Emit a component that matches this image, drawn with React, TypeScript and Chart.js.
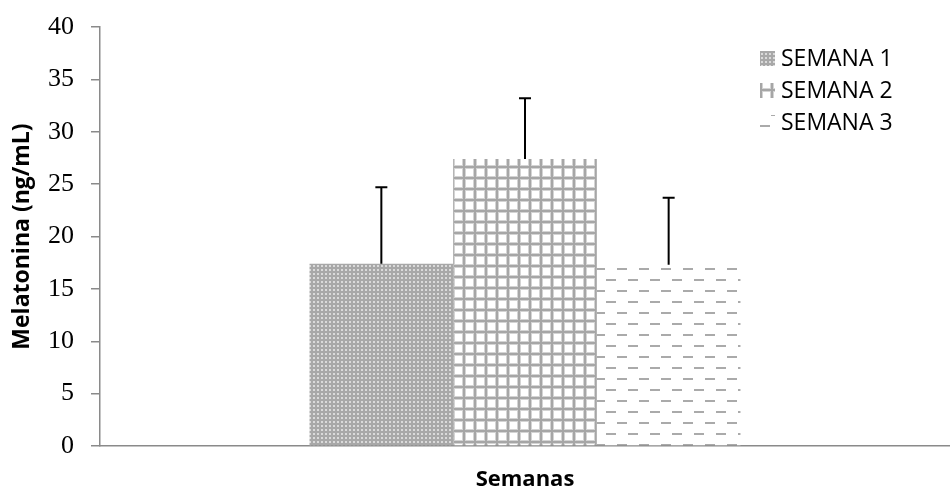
import { useEffect, useRef } from 'react';
import { Chart, registerables } from 'chart.js';

Chart.register(...registerables);

const categories = [''];
const seriesNames = ['SEMANA 1', 'SEMANA 2', 'SEMANA 3'];
const semana1 = [17.4];
const semana2 = [27.4];
const semana3 = [17.3];
const errorsUp = [7.3, 5.8, 6.4];
const yMin = 0;
const yMax = 40;
const yStep = 5;
const xTitle = 'Semanas';
const yTitle = 'Melatonina (ng/mL)';

function makePattern(kind: number): CanvasPattern | string {
  const c = document.createElement('canvas');
  const ctx = c.getContext('2d');
  if (!ctx) return '#b0b0b0';
  if (kind === 0) {
    c.width = 4; c.height = 4;
    ctx.fillStyle = '#a8a8a8';
    ctx.fillRect(0, 0, 4, 4);
    ctx.fillStyle = '#dadada';
    ctx.fillRect(1, 1, 2, 2);
  } else if (kind === 1) {
    c.width = 11; c.height = 11;
    ctx.fillStyle = '#ffffff';
    ctx.fillRect(0, 0, 11, 11);
    ctx.fillStyle = '#d4d4d4';
    ctx.fillRect(0, 0, 4, 11);
    ctx.fillRect(0, 0, 11, 4);
    ctx.fillStyle = '#a6a6a6';
    ctx.fillRect(1, 0, 2, 11);
    ctx.fillRect(0, 1, 11, 2);
  } else {
    c.width = 22; c.height = 22;
    ctx.fillStyle = '#ffffff';
    ctx.fillRect(0, 0, 22, 22);
    ctx.fillStyle = '#aaaaaa';
    ctx.fillRect(1, 4, 10, 2);
    ctx.fillRect(12, 15, 10, 2);
  }
  const p = ctx.createPattern(c, 'repeat');
  return p || '#b0b0b0';
}

const errorBarPlugin = {
  id: 'errorBars',
  afterDatasetsDraw(chart: any) {
    const ctx = chart.ctx;
    const yScale = chart.scales.y;
    ctx.save();
    ctx.strokeStyle = '#000000';
    ctx.lineWidth = 2;
    chart.data.datasets.forEach((ds: any, i: number) => {
      const meta = chart.getDatasetMeta(i);
      meta.data.forEach((bar: any, j: number) => {
        const v = ds.data[j];
        const top = yScale.getPixelForValue(v + errorsUp[i]);
        ctx.beginPath();
        ctx.moveTo(bar.x, bar.y);
        ctx.lineTo(bar.x, top);
        ctx.moveTo(bar.x - 6, top);
        ctx.lineTo(bar.x + 6, top);
        ctx.stroke();
      });
    });
    ctx.restore();
  },
};

const legendPlugin = {
  id: 'excelLegend',
  afterDraw(chart: any) {
    const ctx = chart.ctx;
    ctx.save();
    ctx.font = '23px "Open Sans"';
    ctx.textBaseline = 'middle';
    ctx.textAlign = 'left';
    chart.data.datasets.forEach((ds: any, i: number) => {
      const cy = 58 + i * 32;
      ctx.fillStyle = ds.backgroundColor;
      ctx.fillRect(760, cy - 7, 15, 15);
      ctx.fillStyle = '#000000';
      ctx.fillText(ds.label, 781, cy + 1);
    });
    ctx.restore();
  },
};

export default function App() {
  const ref = useRef<HTMLCanvasElement | null>(null);
  useEffect(() => {
    if (!ref.current) return;
    const seriesValues = [semana1, semana2, semana3];
    const chart = new Chart(ref.current, {
      type: 'bar',
      data: {
        labels: categories,
        datasets: seriesNames.map((name, i) => ({
          label: name,
          data: seriesValues[i],
          backgroundColor: makePattern(i) as any,
          borderWidth: 0,
          barPercentage: 1,
          categoryPercentage: 0.507,
        })),
      },
      options: {
        responsive: false,
        animation: false,
        devicePixelRatio: 1,
        layout: { padding: { top: 27, right: 0, bottom: 0, left: 0 } },
        plugins: {
          legend: { display: false },
          tooltip: { enabled: false },
        },
        scales: {
          x: {
            ticks: { display: false },
            grid: { display: false },
            border: { display: true, color: '#8a8a8a', width: 1.5 },
            title: {
              display: true,
              text: xTitle,
              color: '#000000',
              font: { family: '"Open Sans"', size: 22, weight: 'bold' },
              padding: { top: 0, bottom: 2 },
            },
            afterFit(scale: any) {
              scale.height = 49;
              scale.paddingLeft = 0;
              scale.paddingRight = 0;
            },
          },
          y: {
            min: yMin,
            max: yMax,
            ticks: {
              stepSize: yStep,
              color: '#000000',
              padding: 17,
              font: { family: '"Liberation Serif"', size: 26 },
            },
            grid: {
              drawOnChartArea: false,
              drawTicks: true,
              tickLength: 9,
              color: '#8a8a8a',
              lineWidth: 1.5,
            },
            border: { display: true, color: '#8a8a8a', width: 1.5 },
            title: {
              display: true,
              text: yTitle,
              color: '#000000',
              font: { family: '"Open Sans"', size: 23, weight: 'bold' },
              padding: { top: 9, bottom: 0 },
            },
            afterFit(scale: any) {
              scale.width = 100;
              scale.paddingTop = 0;
              scale.paddingBottom = 0;
            },
          },
        },
      },
      plugins: [errorBarPlugin, legendPlugin],
    });
    return () => chart.destroy();
  }, []);
  return (
    <div style={{ position: 'absolute', left: 0, top: 0, width: 950, height: 495, background: '#ffffff' }}>
      <canvas ref={ref} width={950} height={495} />
    </div>
  );
}
